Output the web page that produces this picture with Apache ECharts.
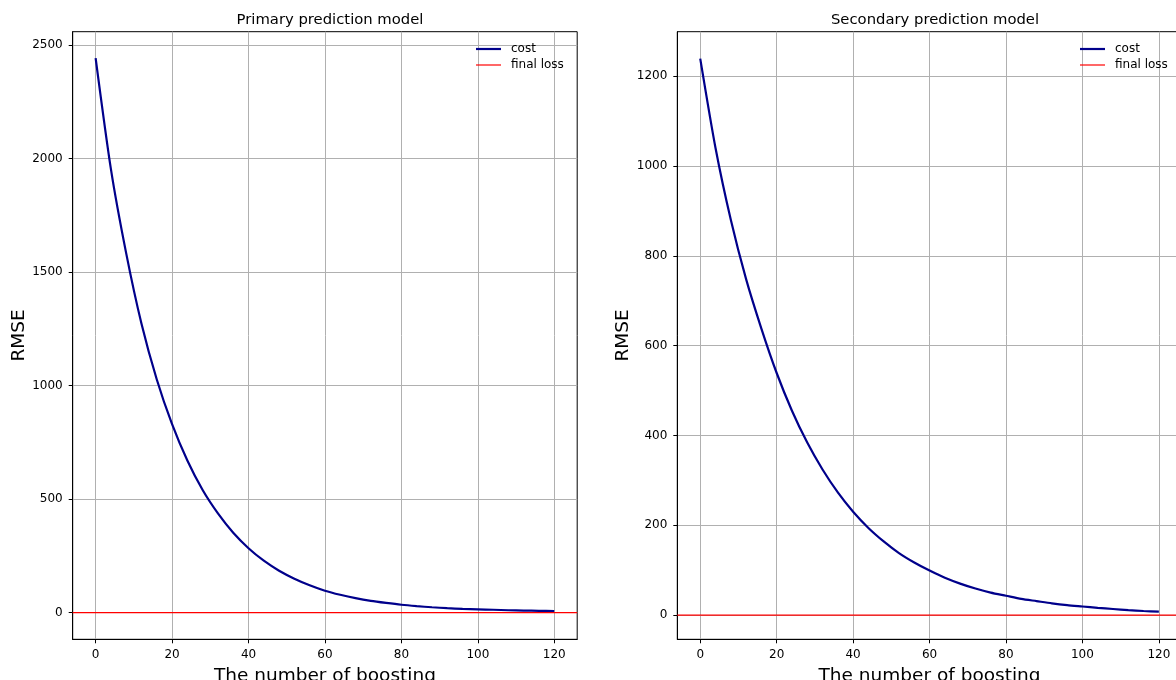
<!DOCTYPE html>
<html>
<head>
<meta charset="utf-8">
<script src="https://cdn.jsdelivr.net/npm/echarts@6/dist/echarts.min.js"></script>
<style>
  html, body { margin: 0; padding: 0; background: #fff; }
  #chart { width: 1176px; height: 680px; }
</style>
</head>
<body>
<div id="chart"></div>
<script>
// Boosting round at which each cost value was recorded
const boostRounds = [0, 4, 8, 12, 16, 20, 24, 28, 32, 36, 40, 44, 48, 52, 56, 60,
  64, 68, 72, 76, 80, 84, 88, 92, 96, 100, 104, 108, 112, 116, 120];

// RMSE of the primary model per round
const primaryCost = [2442, 1953, 1582, 1272, 1027, 830, 670, 540, 437, 352, 284,
  229, 185, 150, 121, 97, 79, 64, 52, 43, 35, 29, 24, 20, 17, 15, 13, 11, 9.5, 8.5, 7.5];

// RMSE of the secondary model per round
const secondaryCost = [1239, 1040, 880, 748, 638, 539, 455, 384, 324, 273, 230,
  194, 164, 138, 117, 99, 83, 70, 59, 50, 43, 36, 31, 26, 22, 19, 16, 13.5, 11, 9, 7.5];

// Level of the final loss reference line
const primaryFinalLoss = 0;
const secondaryFinalLoss = 0;

// Tick values
const xTicks = [0, 20, 40, 60, 80, 100, 120];
const primaryYTicks = [0, 500, 1000, 1500, 2000, 2500];
const secondaryYTicks = [0, 200, 400, 600, 800, 1000, 1200];

// Axis extents
const X_MIN = -6;
const X_MAX = 126;

const FONT = 'DejaVu Sans';
const GRID_COLOR = '#b0b0b0';

function pairs(xs, ys) {
  return xs.map((x, i) => [x, ys[i]]);
}

function xAxisFor(gridIndex) {
  return {
    type: 'value',
    gridIndex,
    min: X_MIN,
    max: X_MAX,
    name: 'The number of boosting',
    nameLocation: 'middle',
    nameGap: 21,
    nameTextStyle: { fontFamily: FONT, fontSize: 18.5, color: '#000' },
    axisLine: { show: true, onZero: false, lineStyle: { color: '#000', width: 1 } },
    axisTick: { show: true, length: 4, customValues: xTicks, lineStyle: { color: '#000', width: 1 } },
    axisLabel: { customValues: xTicks, margin: 10, fontFamily: FONT, fontSize: 12, color: '#000',
      formatter: v => String(v) },
    splitLine: { show: true, lineStyle: { color: GRID_COLOR, width: 1 } }
  };
}

function yAxisFor(gridIndex, min, max, ticks) {
  return {
    type: 'value',
    gridIndex,
    min,
    max,
    name: 'RMSE',
    nameLocation: 'middle',
    nameGap: 44,
    nameRotate: 90,
    nameTextStyle: { fontFamily: FONT, fontSize: 18.5, color: '#000' },
    axisLine: { show: true, onZero: false, lineStyle: { color: '#000', width: 1 } },
    axisTick: { show: true, length: 4, customValues: ticks, lineStyle: { color: '#000', width: 1 } },
    axisLabel: { customValues: ticks, margin: 10, fontFamily: FONT, fontSize: 12, color: '#000',
      formatter: v => String(v) },
    splitLine: { show: true, lineStyle: { color: GRID_COLOR, width: 1 } }
  };
}

function costSeries(name, idx, ys) {
  return {
    name,
    type: 'line',
    xAxisIndex: idx,
    yAxisIndex: idx,
    data: pairs(boostRounds, ys),
    symbol: 'none',
    smooth: 0.25,
    color: '#00008b',
    lineStyle: { color: '#00008b', width: 2.2 },
    z: 3
  };
}

// Horizontal reference line across the full x extent of its axes
function lossSeries(name, idx, level) {
  return {
    name,
    type: 'line',
    xAxisIndex: idx,
    yAxisIndex: idx,
    data: [[X_MIN, level], [X_MAX, level]],
    symbol: 'none',
    color: '#ff0000',
    lineStyle: { color: '#ff0000', width: 1.2 },
    z: 4
  };
}

function legendFor(left, idx) {
  return {
    orient: 'vertical',
    left,
    top: 38,
    itemWidth: 25,
    itemHeight: 14,
    itemGap: 4,
    textStyle: { fontFamily: FONT, fontSize: 12, color: '#000', padding: [0, 0, 0, 5] },
    data: [
      { name: idx === 0 ? 'cost' : 'cost ', icon: 'path://M0,0H25V2.2H0Z' },
      { name: idx === 0 ? 'final loss' : 'final loss ', icon: 'path://M0,0H25V1.2H0Z' }
    ],
    formatter: n => n.trim()
  };
}

const chart = echarts.init(document.getElementById('chart'), null, { renderer: 'canvas' });

chart.setOption({
  backgroundColor: '#fff',
  animation: false,
  title: [
    { text: 'Primary prediction model', left: 325, top: 8, textAlign: 'center',
      textStyle: { fontFamily: FONT, fontSize: 14.8, fontWeight: 'normal', color: '#000' } },
    { text: 'Secondary prediction model', left: 930, top: 8, textAlign: 'center',
      textStyle: { fontFamily: FONT, fontSize: 14.8, fontWeight: 'normal', color: '#000' } }
  ],
  grid: [
    { left: 72.7, top: 31.7, width: 504.5, height: 607.6, show: true, outerBoundsMode: 'none',
      containLabel: false, borderColor: '#000', borderWidth: 1, backgroundColor: 'transparent' },
    { left: 677.3, top: 31.7, width: 504.5, height: 607.6, show: true, outerBoundsMode: 'none',
      containLabel: false, borderColor: '#000', borderWidth: 1, backgroundColor: 'transparent' }
  ],
  xAxis: [xAxisFor(0), xAxisFor(1)],
  yAxis: [
    yAxisFor(0, -117, 2558, primaryYTicks),
    yAxisFor(1, -54, 1299, secondaryYTicks)
  ],
  legend: [legendFor(471, 0), legendFor(1075, 1)],
  series: [
    costSeries('cost', 0, primaryCost),
    lossSeries('final loss', 0, primaryFinalLoss),
    costSeries('cost ', 1, secondaryCost),
    lossSeries('final loss ', 1, secondaryFinalLoss)
  ]
});
</script>
</body>
</html>
